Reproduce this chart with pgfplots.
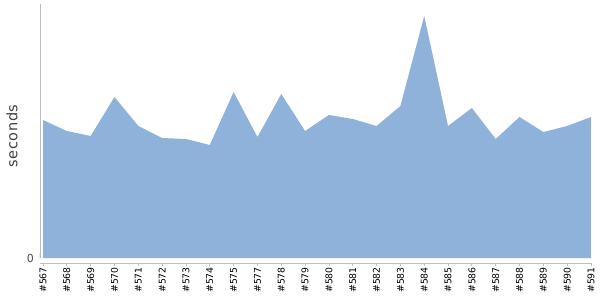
\documentclass[border=0pt]{standalone}
\usepackage{pgfplots}
\pgfplotsset{compat=1.18}
\usepackage{fontspec}
\setmainfont{DejaVu Sans}
\definecolor{areablue}{RGB}{143,178,218}
\definecolor{axgray}{RGB}{190,190,190}
\begin{document}
\begin{tikzpicture}[x=1pt,y=1pt]
\useasboundingbox (0,0) rectangle (600,300);
\begin{axis}[
  at={(40pt,37pt)}, anchor=south west,
  scale only axis, width=551pt, height=259pt,
  xmin=-0.126, xmax=23, ymin=-5, ymax=254,
  axis x line*=bottom,
  axis y line=none,
  x axis line style={axgray, -},
  xtick={0,...,23},
  xticklabels={\#567,\#568,\#569,\#570,\#571,\#572,\#573,\#574,\#575,\#577,\#578,\#579,\#580,\#581,\#582,\#583,\#584,\#585,\#586,\#587,\#588,\#589,\#590,\#591},
  x tick label style={rotate=90, anchor=east, font=\fontsize{9.3}{10}\selectfont, inner sep=1pt},
  xtick style={axgray, line width=0.8pt},
  tick align=outside,
  major tick length=3pt,
  ytick=\empty,
  clip=false,
]
\addplot[fill=areablue, draw=none] coordinates {
(0,138) (1,127) (2,122) (3,161) (4,132) (5,120) (6,119) (7,113) (8,166) (9,121) (10,164) (11,127) (12,143) (13,139) (14,132) (15,152) (16,242) (17,132) (18,150) (19,119) (20,141) (21,126) (22,132) (23,141)
} \closedcycle;
\draw[axgray, line width=0.8pt] (axis cs:-0.126,0) -- (axis cs:-0.126,254);
\draw[axgray, line width=0.8pt] (axis cs:-0.126,0) -- ++(-3pt,0);
\node[anchor=east, text=black!70, font=\fontsize{11}{12}\selectfont, inner sep=0pt] at ([xshift=-6pt]axis cs:-0.126,0) {0};
\node[rotate=90, text=black!75, font=\fontsize{14.5}{16}\selectfont\addfontfeature{LetterSpace=4}] at (-28pt,127pt) {seconds};
\end{axis}
\end{tikzpicture}
\end{document}
